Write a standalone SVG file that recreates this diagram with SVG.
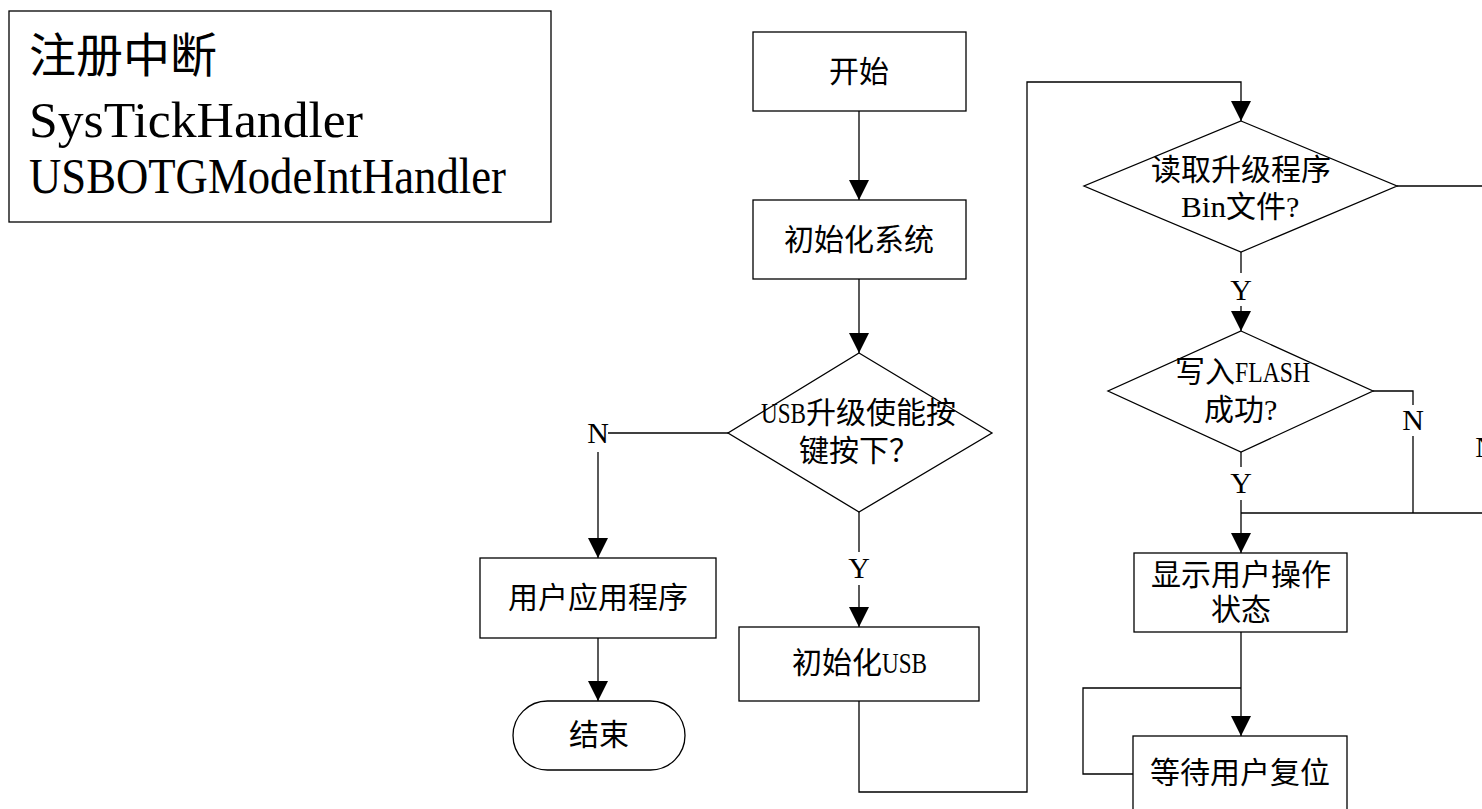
<svg xmlns="http://www.w3.org/2000/svg" width="1482" height="809" viewBox="0 0 1482 809">
<style>
.n{fill:#fff;stroke:#000;stroke-width:1.3}
.c{fill:none;stroke:#000;stroke-width:1.3}
.t{font-family:"Liberation Serif","Noto Sans CJK SC",serif;font-size:30px;fill:#000;text-anchor:middle}
.s{font-family:"Liberation Serif","Noto Sans CJK SC",serif;font-size:30px;fill:#000;text-anchor:start}
.big{font-family:"Liberation Serif","Noto Sans CJK SC",serif;fill:#000}
</style>
<defs>
<marker id="ar" markerUnits="userSpaceOnUse" markerWidth="20" markerHeight="20" refX="20" refY="10" orient="auto" viewBox="0 0 20 20">
<path d="M0,0 L20,10 L0,20 z" fill="#000"/>
</marker>
</defs>
<rect width="1482" height="809" fill="#fff"/>

<g id="note">
<rect class="n" x="9" y="11" width="542" height="211" stroke-width="2"/>
<text class="big" x="29" y="72" font-size="47">注册中断</text>
<text class="big" x="29" y="137" font-size="50" textLength="334" lengthAdjust="spacingAndGlyphs">SysTickHandler</text>
<text class="big" x="29" y="193" font-size="50" textLength="477" lengthAdjust="spacingAndGlyphs">USBOTGModeIntHandler</text>
</g>

<g id="connectors">
<path class="c" d="M859,111 V200" marker-end="url(#ar)"/>
<path class="c" d="M859,279 V353" marker-end="url(#ar)"/>
<path class="c" d="M728,433 H608"/>
<path class="c" d="M598,452 V558" marker-end="url(#ar)"/>
<path class="c" d="M598,638 V701" marker-end="url(#ar)"/>
<path class="c" d="M859,512 V552"/>
<path class="c" d="M859,585 V627" marker-end="url(#ar)"/>
<path class="c" d="M859,701 V792 H1027 V82 H1241 V121" marker-end="url(#ar)"/>
<path class="c" d="M1397,186 H1500"/>
<path class="c" d="M1241,252 V273"/>
<path class="c" d="M1241,306 V331" marker-end="url(#ar)"/>
<path class="c" d="M1373,391 H1413 V405"/>
<path class="c" d="M1413,436 V513"/>
<path class="c" d="M1241,452 V467"/>
<path class="c" d="M1241,500 V513"/>
<path class="c" d="M1500,513 H1241"/>
<path class="c" d="M1241,513 V553" stroke-width="2" marker-end="url(#ar)"/>
<path class="c" d="M1241,632 V736" marker-end="url(#ar)"/>
<path class="c" d="M1133,774 H1083 V688 H1241"/>
<text class="t" x="598" y="443">N</text>
<text class="t" x="859" y="578">Y</text>
<text class="t" x="1241" y="300">Y</text>
<text class="t" x="1413" y="430">N</text>
<text class="t" x="1241" y="493">Y</text>
<text class="t" x="1486" y="457">N</text>
</g>

<g id="start">
<rect class="n" x="753" y="32" width="213" height="79"/>
<text class="t" x="859" y="82">开始</text>
</g>
<g id="init-sys">
<rect class="n" x="753" y="200" width="213" height="79"/>
<text class="t" x="859" y="250">初始化系统</text>
</g>
<g id="dec-usb">
<polygon class="n" points="859,353 992,433 859,512 728,433"/>
<text class="s" x="761" y="423"><tspan textLength="45" lengthAdjust="spacingAndGlyphs">USB</tspan><tspan>升级使能按</tspan></text>
<text class="t" x="859" y="461">键按下？</text>
</g>
<g id="user-app">
<rect class="n" x="480" y="558" width="236" height="80"/>
<text class="t" x="598" y="608">用户应用程序</text>
</g>
<g id="end">
<rect class="n" x="513" y="701" width="172" height="69" rx="34.5" ry="34.5"/>
<text class="t" x="599" y="745">结束</text>
</g>
<g id="init-usb">
<rect class="n" x="739" y="627" width="240" height="74"/>
<text class="s" x="792" y="673"><tspan>初始化</tspan><tspan textLength="45" lengthAdjust="spacingAndGlyphs">USB</tspan></text>
</g>
<g id="dec-read">
<polygon class="n" points="1241,121 1397,186 1241,252 1084,186"/>
<text class="t" x="1241" y="180">读取升级程序</text>
<text class="s" x="1181" y="217"><tspan textLength="45" lengthAdjust="spacingAndGlyphs">Bin</tspan><tspan>文件?</tspan></text>
</g>
<g id="dec-write">
<polygon class="n" points="1241,331 1373,391 1241,452 1108,391"/>
<text class="s" x="1175" y="382"><tspan>写入</tspan><tspan textLength="75" lengthAdjust="spacingAndGlyphs">FLASH</tspan></text>
<text class="s" x="1204" y="420">成功?</text>
</g>
<g id="show-state">
<rect class="n" x="1134" y="553" width="213" height="79"/>
<text class="t" x="1241" y="585">显示用户操作</text>
<text class="t" x="1241" y="620">状态</text>
</g>
<g id="wait-reset">
<rect class="n" x="1133" y="736" width="214" height="80"/>
<text class="t" x="1240" y="783">等待用户复位</text>
</g>
</svg>
